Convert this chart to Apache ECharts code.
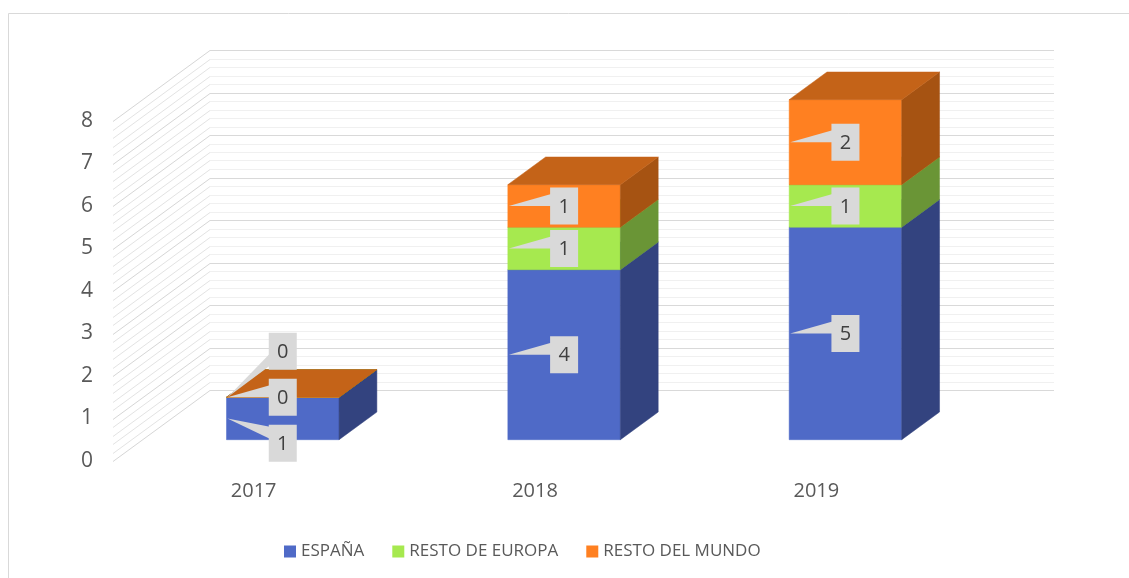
<!DOCTYPE html>
<html>
<head>
<meta charset="utf-8">
<script src="https://cdn.jsdelivr.net/npm/echarts@6/dist/echarts.min.js"></script>
<style>
  html, body { margin: 0; background: #fff; }
  #chart { width: 1129px; height: 578px; }
</style>
</head>
<body>
<div id="chart"></div>
<script>
// datos
const categories = ['2017', '2018', '2019']
const seriesNames = ['ESPAÑA', 'RESTO DE EUROPA', 'RESTO DEL MUNDO']
const espana = [1, 4, 5]
const restoEuropa = [0, 1, 1]
const restoMundo = [0, 1, 2]
const yMin = 0
const yMax = 8
const yStep = 1

const values = [espana, restoEuropa, restoMundo]

// colores de cada cara (frontal, lateral, superior)
const faces = [
  { front: '#4f6ac7', side: '#33437f', top: '#3d55a3' },
  { front: '#a6e94f', side: '#6a9536', top: '#87c040' },
  { front: '#ff8021', side: '#a65312', top: '#c46318' }
]

// proyección oblicua 3D
const DX = 97
const DY = -71
const D0 = 0.3   // profundidad frontal de la barra
const D1 = 0.69  // profundidad trasera de la barra
const BAR_W = 0.4
const MINOR = 5
const BOX_W = 28
const BOX_H = 37
const LABEL_SP = 46
const FONT = '"Open Sans", "Noto Sans", sans-serif'

// apilado
const lows = []
const highs = []
values.forEach((arr, s) => {
  lows[s] = arr.map((v, i) => (s ? highs[s - 1][i] : 0))
  highs[s] = arr.map((v, i) => lows[s][i] + v)
})

const renderWalls = (params, api) => {
  const cs = params.coordSys
  const children = []
  const steps = (yMax - yMin) / yStep * MINOR
  for (let k = 0; k <= steps; k++) {
    const v = yMin + k * yStep / MINOR
    const major = k % MINOR === 0
    const y = Math.round(api.coord([0, v])[1]) + 0.5
    // pared izquierda
    children.push({
      type: 'line',
      shape: { x1: cs.x, y1: y, x2: cs.x + DX, y2: y + DY },
      style: { stroke: major ? '#d6d6d6' : '#e3e3e3', lineWidth: 1 }
    })
    // pared del fondo
    children.push({
      type: 'line',
      shape: { x1: cs.x + DX, y1: y + DY, x2: cs.x + cs.width + DX, y2: y + DY },
      style: { stroke: major ? '#d9d9d9' : '#f0f0f0', lineWidth: 1 }
    })
  }
  return { type: 'group', children }
}

const barGeom = (api, cat) => {
  const w = api.size([1, 0])[0] * BAR_W
  const base = api.coord([cat, 0])
  return { w, fx: base[0] - w / 2 + D0 * DX }
}

const makeBarRender = (s) => (params, api) => {
  const cat = api.value(0)
  const g = barGeom(api, cat)
  const yB = api.coord([cat, api.value(1)])[1] + D0 * DY
  const yT = api.coord([cat, api.value(2)])[1] + D0 * DY
  const ddx = (D1 - D0) * DX
  const ddy = (D1 - D0) * DY
  const f = faces[s]
  const x0 = g.fx
  const x1 = g.fx + g.w
  return {
    type: 'group',
    children: [
      {
        type: 'rect',
        shape: { x: x0, y: yT, width: g.w, height: yB - yT },
        style: { fill: f.front, stroke: f.front, lineWidth: 0.5 }
      },
      {
        type: 'polygon',
        shape: { points: [[x1, yB], [x1 + ddx, yB + ddy], [x1 + ddx, yT + ddy], [x1, yT]] },
        style: { fill: f.side, stroke: f.side, lineWidth: 0.5 }
      },
      {
        type: 'polygon',
        shape: { points: [[x0, yT], [x1, yT], [x1 + ddx, yT + ddy], [x0 + ddx, yT + ddy]] },
        style: { fill: f.top, stroke: f.top, lineWidth: 0.5 }
      }
    ]
  }
}

// posiciones de etiquetas, separadas si se solapan
const labelLayout = (api, cat) => {
  const ideal = values.map((_, s) =>
    api.coord([cat, (lows[s][cat] + highs[s][cat]) / 2])[1] + D0 * DY)
  const ys = ideal.slice()
  const overlap = ideal.some((y, s) => s > 0 && ideal[s - 1] - y < BOX_H + 2)
  if (overlap) {
    const m = Math.floor(ys.length / 2)
    for (let s = m - 1; s >= 0; s--) ys[s] = Math.max(ideal[s], ys[s + 1] + LABEL_SP)
    for (let s = m + 1; s < ys.length; s++) ys[s] = Math.min(ideal[s], ys[s - 1] - LABEL_SP)
  }
  return { ideal, ys }
}

const renderLabel = (params, api) => {
  const cat = api.value(0)
  const s = api.value(4)
  const g = barGeom(api, cat)
  const lay = labelLayout(api, cat)
  const tipY = lay.ideal[s]
  const cy = lay.ys[s]
  const cx = g.fx + g.w / 2
  const bl = cx - BOX_W / 2
  const bt = cy - BOX_H / 2
  const c = Math.min(Math.max(tipY - 6, bt + 8), bt + BOX_H - 10)
  return {
    type: 'group',
    children: [
      {
        type: 'polygon',
        shape: { points: [[g.fx + 1, tipY], [bl + 1, c - 6], [bl + 1, c + 6]] },
        style: { fill: '#d9d9d9' }
      },
      {
        type: 'rect',
        shape: { x: bl, y: bt, width: BOX_W, height: BOX_H },
        style: { fill: '#d9d9d9' }
      },
      {
        type: 'text',
        x: cx,
        y: cy + 1,
        style: {
          text: String(api.value(3)),
          fill: '#404040',
          font: '20px ' + FONT,
          align: 'center',
          verticalAlign: 'middle'
        }
      }
    ]
  }
}

const labelData = []
values.forEach((arr, s) => {
  arr.forEach((v, i) => labelData.push([i, lows[s][i], highs[s][i], v, s]))
})

const chart = echarts.init(document.getElementById('chart'))

chart.setOption({
  animation: false,
  backgroundColor: '#fff',
  color: faces.map(f => f.front),
  graphic: [{
    type: 'polyline',
    shape: { points: [[8.5, 578], [8.5, 13.5], [1129, 13.5]] },
    style: { stroke: '#d9d9d9', lineWidth: 1, fill: null },
    silent: true
  }],
  grid: { left: 113, right: 172, top: 121, bottom: 117 },
  legend: {
    data: seriesNames,
    left: 279,
    top: 538,
    icon: 'rect',
    itemWidth: 12,
    itemHeight: 12,
    itemGap: 28,
    textStyle: { color: '#595959', fontSize: 17, fontFamily: FONT }
  },
  xAxis: {
    type: 'category',
    data: categories,
    axisLine: { show: false },
    axisTick: { show: false },
    splitLine: { show: false },
    axisLabel: { color: '#595959', fontSize: 20, fontFamily: FONT, margin: 20 }
  },
  yAxis: {
    type: 'value',
    min: yMin,
    max: yMax,
    interval: yStep,
    axisLine: { show: false },
    axisTick: { show: false },
    splitLine: { show: false },
    axisLabel: {
      color: '#595959', fontSize: 21, fontFamily: FONT, margin: 20,
      padding: [5, 0, 0, 0]
    }
  },
  series: [
    {
      name: 'paredes',
      type: 'custom',
      z: 1,
      silent: true,
      renderItem: renderWalls,
      data: [[0, 0]]
    },
    ...seriesNames.map((name, s) => ({
      name,
      type: 'custom',
      z: 2,
      itemStyle: { color: faces[s].front },
      renderItem: makeBarRender(s),
      encode: { x: 0, y: [1, 2] },
      data: categories.map((c, i) => [i, lows[s][i], highs[s][i], values[s][i]])
    })),
    {
      name: 'etiquetas',
      type: 'custom',
      z: 3,
      silent: true,
      renderItem: renderLabel,
      encode: { x: 0, y: [1, 2] },
      data: labelData
    }
  ]
})

window.addEventListener('resize', () => chart.resize())
</script>
</body>
</html>
